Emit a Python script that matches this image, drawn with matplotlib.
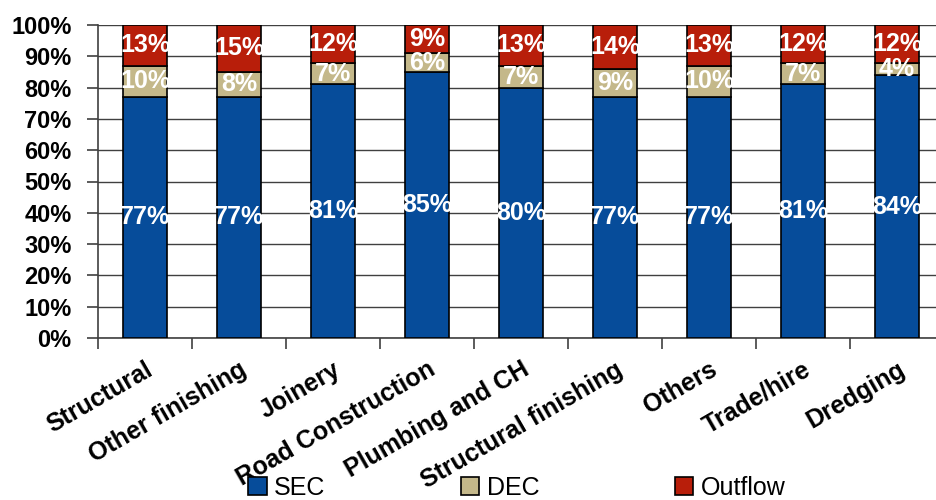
import matplotlib
matplotlib.use("Agg")
import matplotlib.pyplot as plt
import numpy as np

categories = ["Structural", "Other finishing", "Joinery", "Road Construction",
              "Plumbing and CH", "Structural finishing", "Others", "Trade/hire", "Dredging"]
sec = [77, 77, 81, 85, 80, 77, 77, 81, 84]
dec = [10, 8, 7, 6, 7, 9, 10, 7, 4]
outflow = [13, 15, 12, 9, 13, 14, 13, 12, 12]
series_names = ["SEC", "DEC", "Outflow"]
colors = ["#064C9A", "#C4B88A", "#B81E0A"]

plt.rcParams['font.family'] = ['Liberation Sans', 'DejaVu Sans']

fig = plt.figure(figsize=(9.36, 5.0), dpi=100)
ax = fig.add_axes([98/936, (500-338)/500, (944-98)/936, (338-25)/500])

x = np.arange(len(categories))
w = 0.46
bottoms = np.zeros(len(categories))
containers = []
for vals, col, name in zip([sec, dec, outflow], colors, series_names):
    c = ax.bar(x, vals, w, bottom=bottoms, color=col, edgecolor="black", linewidth=1.2,
               label=name, zorder=3)
    containers.append((c, vals))
    bottoms = bottoms + np.array(vals)

for c, vals in containers:
    ax.bar_label(c, labels=[f"{v}%" for v in vals], label_type="center",
                 color="white", fontsize=18, fontweight="bold")

ax.set_xlim(-0.5, len(categories) - 0.5)
ax.set_ylim(0, 100)
ax.set_yticks(np.arange(0, 101, 10))
ax.set_yticklabels([f"{v}%" for v in range(0, 101, 10)], fontsize=17, fontweight="bold")
ax.yaxis.grid(True, color="#404040", linewidth=1.0, zorder=0)
ax.set_axisbelow(True)

ax.set_xticks(x)
ax.set_xticklabels(categories, rotation=30, ha="right", rotation_mode="anchor",
                   fontsize=18, fontweight="bold")
ax.set_xticks(np.arange(-0.5, len(categories), 1), minor=True)
ax.tick_params(axis="x", which="major", length=0, pad=14)
ax.tick_params(axis="x", which="minor", length=8, width=1.2, color="#404040", direction="out")
ax.tick_params(axis="y", length=8, width=1.2, color="#404040", pad=11)

for s in ["top", "right"]:
    ax.spines[s].set_visible(False)
for s in ["left", "bottom"]:
    ax.spines[s].set_color("#404040")
    ax.spines[s].set_linewidth(1.2)

handles = [c for c, _ in containers]
fig.legend(handles, series_names, loc="center left", bbox_to_anchor=(248/936, 0.024),
           ncol=3, frameon=False, fontsize=18, handlelength=0.75, handleheight=0.75,
           handletextpad=0.3, columnspacing=5.4, borderpad=0, borderaxespad=0)

fig.savefig("out.png", dpi=100)
